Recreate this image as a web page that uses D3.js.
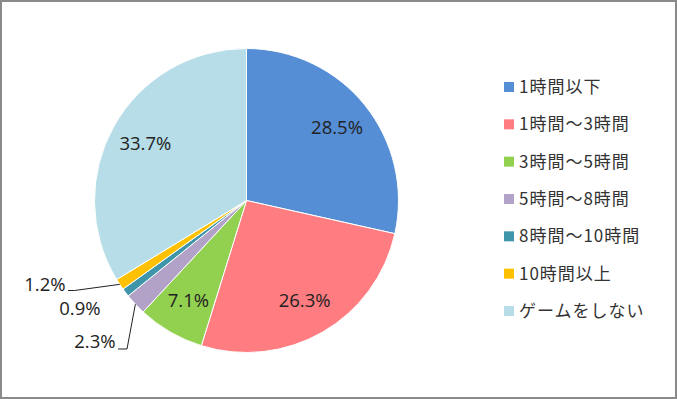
<!DOCTYPE html>
<html>
<head>
<meta charset="utf-8">
<script src="https://cdn.jsdelivr.net/npm/d3@7"></script>
<style>
  body { margin: 0; background: #fff; }
</style>
</head>
<body>
<script>
// データ
var categories = ["1時間以下", "1時間～3時間", "3時間～5時間", "5時間～8時間", "8時間～10時間", "10時間以上", "ゲームをしない"];
var values = [28.5, 26.3, 7.1, 2.3, 0.9, 1.2, 33.7];
var colors = ["#558ed5", "#ff7c80", "#92d050", "#b3a2c7", "#3f96aa", "#ffc000", "#b7dee8"];

var width = 677, height = 399;
var cx = 246.5, cy = 200.5, r = 152;

var svg = d3.select("body").append("svg")
  .attr("width", width).attr("height", height);

// 外枠
svg.append("rect")
  .attr("x", 1).attr("y", 1)
  .attr("width", width - 2).attr("height", height - 2)
  .attr("fill", "#fff")
  .attr("stroke", "#8a8a8a").attr("stroke-width", 2);

var pie = d3.pie().sort(null).value(function(d) { return d; });
var arcs = pie(values);

var arc = d3.arc().innerRadius(0).outerRadius(r);

var g = svg.append("g").attr("transform", "translate(" + cx + "," + cy + ")");

g.selectAll("path.slice").data(arcs)
  .enter().append("path")
  .attr("class", "slice")
  .attr("d", arc)
  .attr("fill", function(d, i) { return colors[i]; })
  .attr("stroke", "#fff")
  .attr("stroke-width", 1);

// ラベル
var inner = d3.arc().innerRadius(116).outerRadius(116);
var numFont = "'Open Sans', 'Liberation Sans', sans-serif";
var numSize = 18.5;

// 小さいスライスは外側に置く (index: 3,4,5)
var outside = {
  3: { x: -131, y: 147.5, line: [[-128.5, 148.5], [-119.5, 148.5]] },
  4: { x: -146, y: 114.5, line: null },
  5: { x: -181, y: 90, line: [[-178.5, 90], [-172, 90]] }
};

arcs.forEach(function(d, i) {
  var label = values[i].toFixed(1) + "%";
  if (outside[i]) {
    var o = outside[i];
    if (o.line) {
      var mid = (d.startAngle + d.endAngle) / 2;
      var edge = [Math.sin(mid) * r, -Math.cos(mid) * r];
      g.append("path")
        .attr("d", d3.line()([o.line[0], o.line[1], edge]))
        .attr("fill", "none")
        .attr("stroke", "#222")
        .attr("stroke-width", 1);
    }
    g.append("text")
      .attr("x", o.x).attr("y", o.y)
      .attr("text-anchor", "end")
      .attr("font-family", numFont)
      .attr("font-size", numSize)
      .attr("fill", "#222")
      .text(label);
  } else {
    var c = inner.centroid(d);
    g.append("text")
      .attr("x", c[0]).attr("y", c[1])
      .attr("text-anchor", "middle")
      .attr("dy", "0.35em")
      .attr("font-family", numFont)
      .attr("font-size", numSize)
      .attr("fill", "#222")
      .text(label);
  }
});

// 凡例
var legendY = d3.scalePoint()
  .domain(categories)
  .range([87, 311]);

var legend = svg.append("g");
var items = legend.selectAll("g").data(categories)
  .enter().append("g")
  .attr("transform", function(d) { return "translate(504," + legendY(d) + ")"; });

items.append("rect")
  .attr("x", 0).attr("y", -5)
  .attr("width", 10).attr("height", 10)
  .attr("fill", function(d, i) { return colors[i]; });

items.append("text")
  .attr("x", 15).attr("y", 0)
  .attr("dy", "0.36em")
  .attr("font-family", "'Noto Sans CJK JP', sans-serif")
  .attr("font-size", 17)
  .attr("letter-spacing", 1)
  .attr("fill", "#333")
  .text(function(d) { return d; });
</script>
</body>
</html>
